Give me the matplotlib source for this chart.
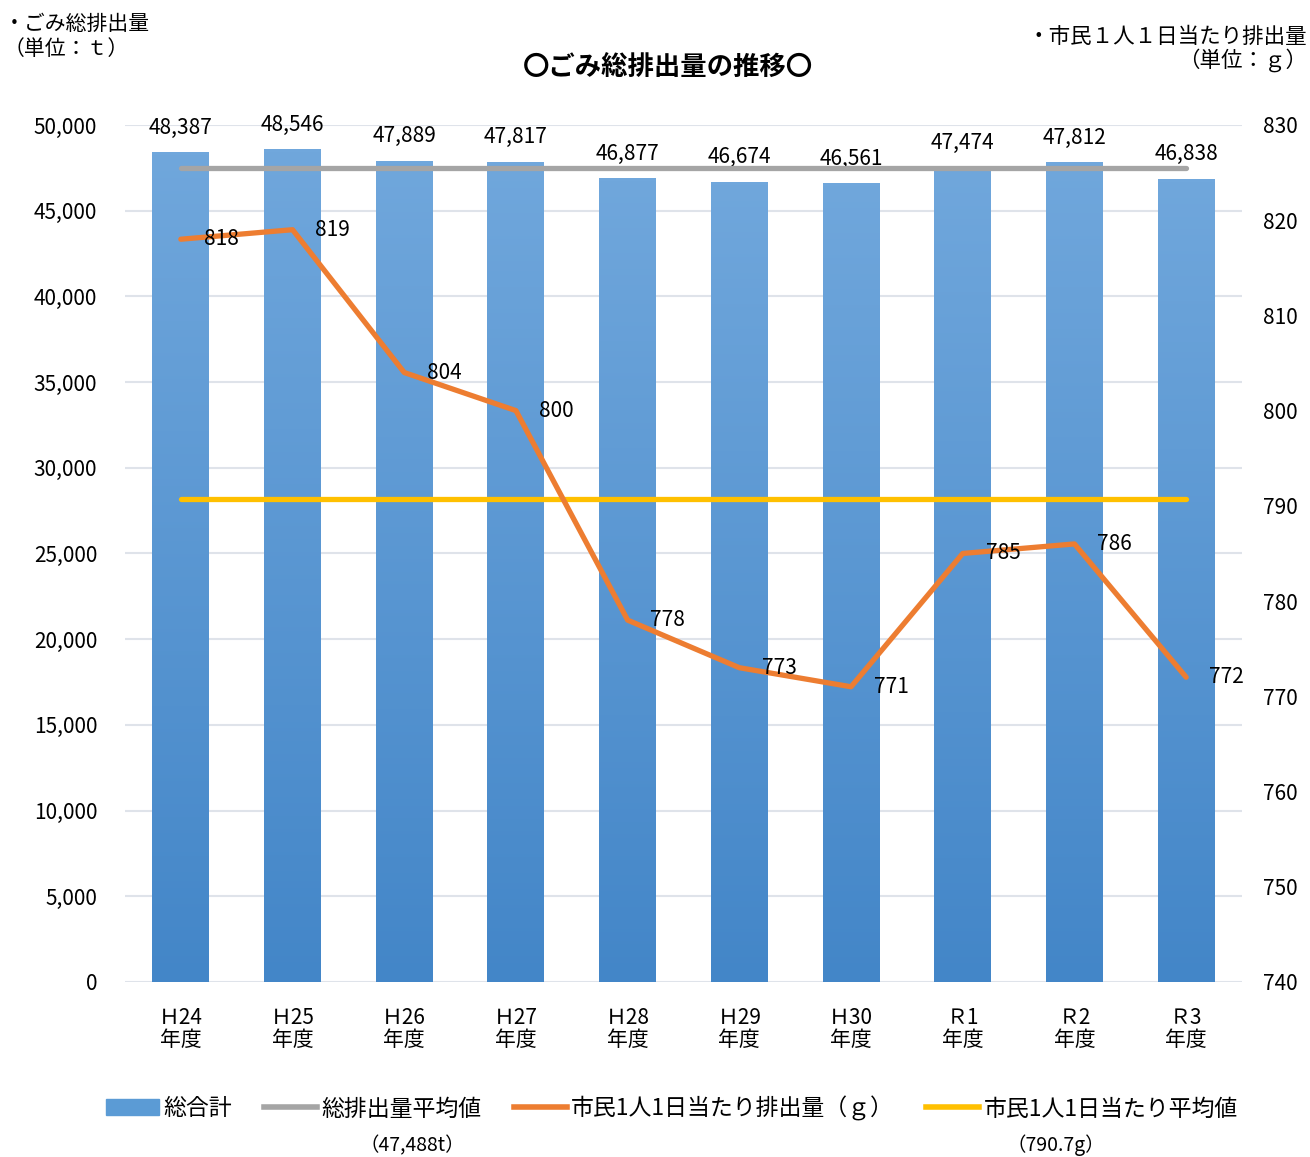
import matplotlib
matplotlib.use('Agg')
import matplotlib.pyplot as plt
import numpy as np
from matplotlib.colors import LinearSegmentedColormap
from matplotlib.patches import Rectangle
from matplotlib.lines import Line2D

plt.rcParams['font.family'] = ['Noto Sans CJK JP', 'DejaVu Sans']

# データ
years = ['Ｈ24\n年度', 'Ｈ25\n年度', 'Ｈ26\n年度', 'Ｈ27\n年度', 'Ｈ28\n年度',
         'Ｈ29\n年度', 'Ｈ30\n年度', 'Ｒ1\n年度', 'Ｒ2\n年度', 'Ｒ3\n年度']
total = [48387, 48546, 47889, 47817, 46877, 46674, 46561, 47474, 47812, 46838]
per_capita = [818, 819, 804, 800, 778, 773, 771, 785, 786, 772]
total_avg = 47488
per_capita_avg = 790.7

fig = plt.figure(figsize=(13.1, 11.57), dpi=100)
ax = fig.add_axes([0.0954, 0.1513, 0.8527, 0.7407])
ax2 = ax.twinx()

x = np.arange(len(years))
cmap = LinearSegmentedColormap.from_list('bar', ['#4386c8', '#70a7dc'])
grad = np.linspace(0, 1, 256).reshape(-1, 1)

bars = ax.bar(x, total, width=0.51, color='none', zorder=2)
for b in bars:
    x0, w, h = b.get_x(), b.get_width(), b.get_height()
    ax.imshow(grad, extent=[x0, x0 + w, 0, h], origin='lower', aspect='auto',
              cmap=cmap, zorder=2)
for xi, v in zip(x, total):
    ax.annotate(f'{v:,}', (xi, v), xytext=(0, 18), textcoords='offset points',
                ha='center', va='center', fontsize=15)

# 総排出量平均値
ax.plot([x[0], x[-1]], [total_avg, total_avg], color='#a5a5a5', lw=3.8,
        solid_capstyle='round', zorder=3)

ax.set_xlim(-0.5, len(years) - 0.5)
ax.set_ylim(0, 50000)
ax.set_yticks(np.arange(0, 50001, 5000))
ax.set_yticklabels([f'{v:,}' for v in range(0, 50001, 5000)])
ax.set_xticks(x)
ax.set_xticklabels(years, linespacing=1.0)
ax.tick_params(axis='y', length=0, pad=20, labelsize=15)
ax.tick_params(axis='x', length=0, pad=18, labelsize=15)
ax.grid(axis='y', color='#dfe3ea', lw=1.5, zorder=0)
ax.set_axisbelow(True)
for s in ax.spines.values():
    s.set_visible(False)

# 市民1人1日当たり排出量
ax2.plot([x[0], x[-1]], [per_capita_avg, per_capita_avg], color='#ffc000', lw=3.8,
         solid_capstyle='round', zorder=3)
ax2.plot(x, per_capita, color='#ed7d31', lw=3.8, solid_capstyle='round',
         solid_joinstyle='round', zorder=4)
for xi, v in zip(x, per_capita):
    ax2.annotate(str(v), (xi, v), xytext=(29, 0), textcoords='offset points',
                 ha='center', va='center', fontsize=15, zorder=6)
ax2.set_ylim(740, 830)
ax2.set_yticks(np.arange(740, 831, 10))
ax2.tick_params(axis='y', length=0, pad=15, labelsize=15)
for s in ax2.spines.values():
    s.set_visible(False)

fig.text(0.51, 0.941, '〇ごみ総排出量の推移〇', ha='center', va='center',
         fontsize=19, fontweight='bold')
fig.text(0.003, 0.979, '・ごみ総排出量', ha='left', va='center', fontsize=15)
fig.text(0.003, 0.958, '（単位：ｔ）', ha='left', va='center', fontsize=15)
fig.text(0.998, 0.968, '・市民１人１日当たり排出量', ha='right', va='center', fontsize=15.5)
fig.text(0.998, 0.948, '（単位：ｇ）', ha='right', va='center', fontsize=15.5)

# 凡例
handles = [Rectangle((0, 0), 1, 1, color='#5b9bd5'),
           Line2D([], [], color='#a5a5a5', lw=4),
           Line2D([], [], color='#ed7d31', lw=4),
           Line2D([], [], color='#ffc000', lw=4)]
labels = ['総合計', '総排出量平均値', '市民1人1日当たり排出量（ｇ）', '市民1人1日当たり平均値']
fig.legend(handles, labels, loc='center', bbox_to_anchor=(0.513, 0.042), ncol=4,
           frameon=False, fontsize=16.5, handlelength=2.3, handletextpad=0.2,
           columnspacing=1.4)
fig.text(0.315, 0.010, '（47,488t）', ha='center', va='center', fontsize=14)
fig.text(0.806, 0.010, '（790.7g）', ha='center', va='center', fontsize=14)

plt.savefig('out.png', dpi=100)
